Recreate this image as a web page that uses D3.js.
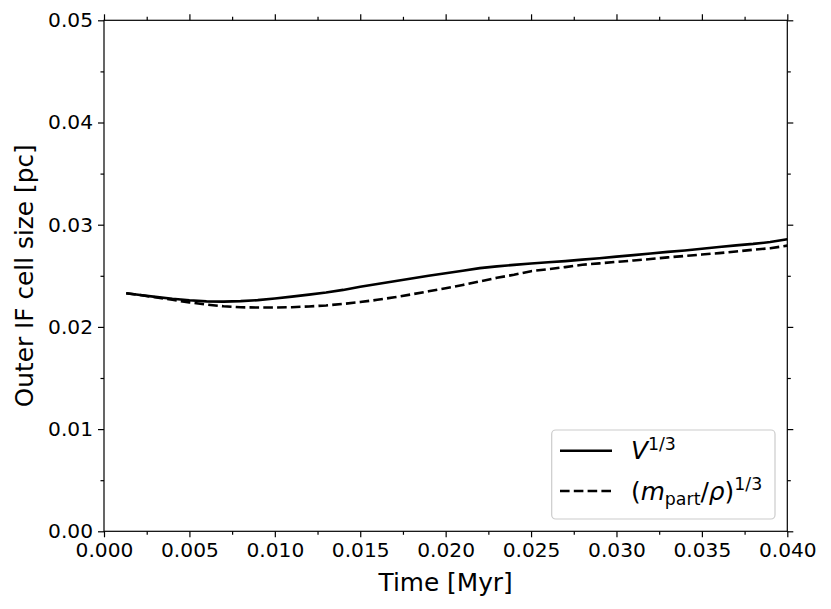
<!DOCTYPE html>
<html><head><meta charset="utf-8">
<script src="https://cdn.jsdelivr.net/npm/d3@7"></script>
<style>
html,body{margin:0;padding:0;background:#fff;}
text{font-family:"DejaVu Sans",sans-serif;fill:#000;}
</style></head>
<body><svg id="c" width="831" height="609"></svg>
<script>
const time = [0.0013,0.002,0.003,0.004,0.005,0.006,0.007,0.008,0.009,0.010,0.011,0.012,0.013,0.014,0.015,0.016,0.017,0.018,0.019,0.020,0.021,0.022,0.023,0.024,0.025,0.026,0.027,0.028,0.029,0.030,0.031,0.032,0.033,0.034,0.035,0.036,0.037,0.038,0.039,0.040];
const volumeRoot = [0.02329,0.02314,0.02294,0.02275,0.02260,0.02250,0.02247,0.02252,0.02262,0.02278,0.02296,0.02316,0.02336,0.02362,0.02393,0.02420,0.02447,0.02473,0.02500,0.02525,0.02550,0.02575,0.02592,0.02607,0.02620,0.02632,0.02644,0.02658,0.02672,0.02688,0.02702,0.02718,0.02734,0.02748,0.02765,0.02782,0.02798,0.02812,0.02830,0.02857];
const massRoot = [0.02329,0.02314,0.02290,0.02265,0.02240,0.02218,0.02202,0.02192,0.02190,0.02190,0.02193,0.02200,0.02210,0.02225,0.02243,0.02265,0.02290,0.02318,0.02348,0.02378,0.02410,0.02445,0.02480,0.02510,0.02545,0.02565,0.02585,0.02608,0.02622,0.02636,0.02650,0.02664,0.02680,0.02694,0.02708,0.02722,0.02738,0.02755,0.02770,0.02795];
const xTicks = [0.000,0.005,0.010,0.015,0.020,0.025,0.030,0.035,0.040];
const yTicks = [0.00,0.01,0.02,0.03,0.04,0.05];
const xMinor = [0.0025,0.0075,0.0125,0.0175,0.0225,0.0275,0.0325,0.0375];
const yMinor = [0.005,0.015,0.025,0.035,0.045];

const svg = d3.select("#c");
const L=104, R=787.3, T=20.3, B=531.3;
const x = d3.scaleLinear().domain([0,0.04]).range([L,R]);
const y = d3.scaleLinear().domain([0,0.05]).range([B,T]);
const fs = 20.2;

function axisStyle(g){ g.selectAll(".domain").remove(); g.selectAll("line").attr("stroke","#000").attr("stroke-width",1.2); }

// bottom
const gb = svg.append("g").attr("transform",`translate(0,${B})`)
  .call(d3.axisBottom(x).tickValues(xTicks).tickFormat(d3.format(".3f")).tickSize(6).tickPadding(5));
axisStyle(gb); gb.selectAll("text").attr("font-size",fs).attr("font-family","DejaVu Sans");
svg.append("g").attr("transform",`translate(0,${B})`).call(d3.axisBottom(x).tickValues(xMinor).tickFormat("").tickSize(3.5)).call(axisStyle);
// top
svg.append("g").attr("transform",`translate(0,${T})`).call(d3.axisTop(x).tickValues(xTicks).tickFormat("").tickSize(6)).call(axisStyle);
svg.append("g").attr("transform",`translate(0,${T})`).call(d3.axisTop(x).tickValues(xMinor).tickFormat("").tickSize(3.5)).call(axisStyle);
// left
const gl = svg.append("g").attr("transform",`translate(${L},0)`)
  .call(d3.axisLeft(y).tickValues(yTicks).tickFormat(d3.format(".2f")).tickSize(6).tickPadding(5));
axisStyle(gl); gl.selectAll("text").attr("font-size",fs).attr("font-family","DejaVu Sans");
svg.append("g").attr("transform",`translate(${L},0)`).call(d3.axisLeft(y).tickValues(yMinor).tickFormat("").tickSize(3.5)).call(axisStyle);
// right
svg.append("g").attr("transform",`translate(${R},0)`).call(d3.axisRight(y).tickValues(yTicks).tickFormat("").tickSize(6)).call(axisStyle);
svg.append("g").attr("transform",`translate(${R},0)`).call(d3.axisRight(y).tickValues(yMinor).tickFormat("").tickSize(3.5)).call(axisStyle);

// lines
const line = d3.line().x((d,i)=>x(time[i])).y(d=>y(d));
svg.append("path").datum(volumeRoot).attr("d",line).attr("fill","none").attr("stroke","#000").attr("stroke-width",2.6);
svg.append("path").datum(massRoot).attr("d",line).attr("fill","none").attr("stroke","#000").attr("stroke-width",2.6).attr("stroke-dasharray","9.6,4.2");

// frame
svg.append("rect").attr("x",L).attr("y",T).attr("width",R-L).attr("height",B-T).attr("fill","none").attr("stroke","#000").attr("stroke-width",1.2);

// axis labels
const afs = 24.8;
svg.append("text").attr("x",(L+R)/2).attr("y",591).attr("text-anchor","middle").attr("font-size",afs).text("Time [Myr]");
svg.append("text").attr("transform",`translate(33,${(T+B)/2}) rotate(-90)`).attr("text-anchor","middle").attr("font-size",afs).text("Outer IF cell size [pc]");

// legend
const lg = svg.append("g");
lg.append("rect").attr("x",551.7).attr("y",430).attr("width",223.3).attr("height",89).attr("rx",4)
  .attr("fill","#fff").attr("fill-opacity",0.8).attr("stroke","#cccccc").attr("stroke-width",1.2);
lg.append("line").attr("x1",560).attr("x2",612).attr("y1",450.7).attr("y2",450.7).attr("stroke","#000").attr("stroke-width",2.6);
lg.append("line").attr("x1",560).attr("x2",612).attr("y1",491).attr("y2",491).attr("stroke","#000").attr("stroke-width",2.6).attr("stroke-dasharray","9.6,4.2");
const lfs = 24.8;
const t1 = lg.append("text").attr("x",631).attr("y",459).attr("font-size",lfs);
t1.append("tspan").attr("font-style","italic").text("V");
t1.append("tspan").attr("font-size",lfs*0.7).attr("dy",-9.5).text("1/3");
const t2 = lg.append("text").attr("x",631).attr("y",499.5).attr("font-size",lfs);
t2.append("tspan").text("(");
t2.append("tspan").attr("font-style","italic").text("m");
t2.append("tspan").attr("font-size",lfs*0.7).attr("dy",5).text("part");
t2.append("tspan").attr("dy",-5).text("/");
t2.append("tspan").attr("font-style","italic").text("ρ");
t2.append("tspan").text(")");
t2.append("tspan").attr("font-size",lfs*0.7).attr("dy",-9.5).text("1/3");
</script></body></html>
